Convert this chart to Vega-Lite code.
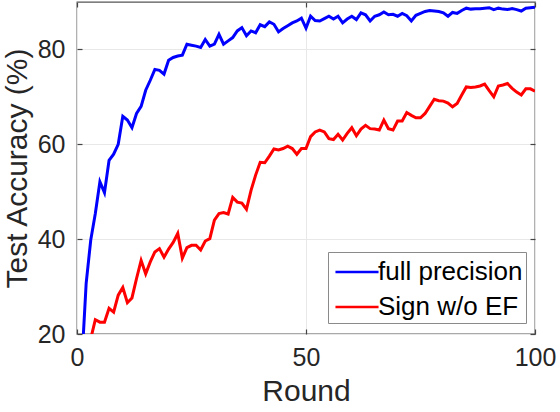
{
  "$schema": "https://vega.github.io/schema/vega-lite/v6.json",
  "width": 458,
  "height": 332,
  "autosize": "none",
  "padding": {"left": 77, "top": 2, "right": 25, "bottom": 78},
  "background": "white",
  "config": {
    "font": "Liberation Sans",
    "view": {"stroke": "#555555", "strokeWidth": 1.3},
    "axis": {
      "domain": false,
      "gridColor": "#e8e8e8",
      "gridWidth": 1,
      "tickColor": "#444444",
      "tickSize": -5,
      "tickWidth": 1.2,
      "labelFontSize": 25,
      "labelColor": "#262626",
      "titleFontSize": 30,
      "titleColor": "#262626",
      "titleFontWeight": "normal"
    }
  },
  "data": {
    "values": [
      {"round": 1, "method": "full precision", "acc": 13},
      {"round": 2, "method": "full precision", "acc": 30.7},
      {"round": 3, "method": "full precision", "acc": 39.8},
      {"round": 4, "method": "full precision", "acc": 45.4},
      {"round": 5, "method": "full precision", "acc": 52.1},
      {"round": 6, "method": "full precision", "acc": 49.8},
      {"round": 7, "method": "full precision", "acc": 56.6},
      {"round": 8, "method": "full precision", "acc": 57.9},
      {"round": 9, "method": "full precision", "acc": 60.0},
      {"round": 10, "method": "full precision", "acc": 65.9},
      {"round": 11, "method": "full precision", "acc": 65.1},
      {"round": 12, "method": "full precision", "acc": 63.5},
      {"round": 13, "method": "full precision", "acc": 66.5},
      {"round": 14, "method": "full precision", "acc": 68.0},
      {"round": 15, "method": "full precision", "acc": 71.4},
      {"round": 16, "method": "full precision", "acc": 73.5},
      {"round": 17, "method": "full precision", "acc": 75.8},
      {"round": 18, "method": "full precision", "acc": 75.6},
      {"round": 19, "method": "full precision", "acc": 74.8},
      {"round": 20, "method": "full precision", "acc": 77.7},
      {"round": 21, "method": "full precision", "acc": 78.3},
      {"round": 22, "method": "full precision", "acc": 78.6},
      {"round": 23, "method": "full precision", "acc": 78.8},
      {"round": 24, "method": "full precision", "acc": 81.1},
      {"round": 25, "method": "full precision", "acc": 80.9},
      {"round": 26, "method": "full precision", "acc": 80.7},
      {"round": 27, "method": "full precision", "acc": 80.4},
      {"round": 28, "method": "full precision", "acc": 82.1},
      {"round": 29, "method": "full precision", "acc": 80.7},
      {"round": 30, "method": "full precision", "acc": 81.1},
      {"round": 31, "method": "full precision", "acc": 83.2},
      {"round": 32, "method": "full precision", "acc": 81.1},
      {"round": 33, "method": "full precision", "acc": 81.8},
      {"round": 34, "method": "full precision", "acc": 82.5},
      {"round": 35, "method": "full precision", "acc": 83.9},
      {"round": 36, "method": "full precision", "acc": 84.6},
      {"round": 37, "method": "full precision", "acc": 82.9},
      {"round": 38, "method": "full precision", "acc": 83.9},
      {"round": 39, "method": "full precision", "acc": 83.5},
      {"round": 40, "method": "full precision", "acc": 85.2},
      {"round": 41, "method": "full precision", "acc": 84.8},
      {"round": 42, "method": "full precision", "acc": 85.8},
      {"round": 43, "method": "full precision", "acc": 85.3},
      {"round": 44, "method": "full precision", "acc": 83.7},
      {"round": 45, "method": "full precision", "acc": 84.4},
      {"round": 46, "method": "full precision", "acc": 85.0},
      {"round": 47, "method": "full precision", "acc": 85.6},
      {"round": 48, "method": "full precision", "acc": 86.0},
      {"round": 49, "method": "full precision", "acc": 86.6},
      {"round": 50, "method": "full precision", "acc": 84.5},
      {"round": 51, "method": "full precision", "acc": 87.0},
      {"round": 52, "method": "full precision", "acc": 86.1},
      {"round": 53, "method": "full precision", "acc": 86.0},
      {"round": 54, "method": "full precision", "acc": 86.5},
      {"round": 55, "method": "full precision", "acc": 87.0},
      {"round": 56, "method": "full precision", "acc": 86.4},
      {"round": 57, "method": "full precision", "acc": 87.0},
      {"round": 58, "method": "full precision", "acc": 85.6},
      {"round": 59, "method": "full precision", "acc": 86.4},
      {"round": 60, "method": "full precision", "acc": 87.0},
      {"round": 61, "method": "full precision", "acc": 86.3},
      {"round": 62, "method": "full precision", "acc": 87.7},
      {"round": 63, "method": "full precision", "acc": 87.3},
      {"round": 64, "method": "full precision", "acc": 86.0},
      {"round": 65, "method": "full precision", "acc": 87.0},
      {"round": 66, "method": "full precision", "acc": 87.3},
      {"round": 67, "method": "full precision", "acc": 87.9},
      {"round": 68, "method": "full precision", "acc": 87.3},
      {"round": 69, "method": "full precision", "acc": 87.4},
      {"round": 70, "method": "full precision", "acc": 87.0},
      {"round": 71, "method": "full precision", "acc": 87.6},
      {"round": 72, "method": "full precision", "acc": 87.1},
      {"round": 73, "method": "full precision", "acc": 86.0},
      {"round": 74, "method": "full precision", "acc": 87.2},
      {"round": 75, "method": "full precision", "acc": 87.6},
      {"round": 76, "method": "full precision", "acc": 88.0},
      {"round": 77, "method": "full precision", "acc": 88.2},
      {"round": 78, "method": "full precision", "acc": 88.1},
      {"round": 79, "method": "full precision", "acc": 88.0},
      {"round": 80, "method": "full precision", "acc": 87.7},
      {"round": 81, "method": "full precision", "acc": 87.0},
      {"round": 82, "method": "full precision", "acc": 87.8},
      {"round": 83, "method": "full precision", "acc": 87.6},
      {"round": 84, "method": "full precision", "acc": 88.2},
      {"round": 85, "method": "full precision", "acc": 88.7},
      {"round": 86, "method": "full precision", "acc": 88.5},
      {"round": 87, "method": "full precision", "acc": 88.6},
      {"round": 88, "method": "full precision", "acc": 88.6},
      {"round": 89, "method": "full precision", "acc": 88.7},
      {"round": 90, "method": "full precision", "acc": 88.8},
      {"round": 91, "method": "full precision", "acc": 88.4},
      {"round": 92, "method": "full precision", "acc": 88.7},
      {"round": 93, "method": "full precision", "acc": 88.5},
      {"round": 94, "method": "full precision", "acc": 88.4},
      {"round": 95, "method": "full precision", "acc": 88.6},
      {"round": 96, "method": "full precision", "acc": 88.4},
      {"round": 97, "method": "full precision", "acc": 88.1},
      {"round": 98, "method": "full precision", "acc": 88.7},
      {"round": 99, "method": "full precision", "acc": 88.8},
      {"round": 100, "method": "full precision", "acc": 88.9},
      {"round": 1, "method": "Sign w/o EF", "acc": 10},
      {"round": 2, "method": "Sign w/o EF", "acc": 15},
      {"round": 3, "method": "Sign w/o EF", "acc": 19},
      {"round": 4, "method": "Sign w/o EF", "acc": 23.0},
      {"round": 5, "method": "Sign w/o EF", "acc": 22.5},
      {"round": 6, "method": "Sign w/o EF", "acc": 22.5},
      {"round": 7, "method": "Sign w/o EF", "acc": 25.4},
      {"round": 8, "method": "Sign w/o EF", "acc": 24.6},
      {"round": 9, "method": "Sign w/o EF", "acc": 28.2},
      {"round": 10, "method": "Sign w/o EF", "acc": 29.8},
      {"round": 11, "method": "Sign w/o EF", "acc": 26.6},
      {"round": 12, "method": "Sign w/o EF", "acc": 27.6},
      {"round": 13, "method": "Sign w/o EF", "acc": 31.7},
      {"round": 14, "method": "Sign w/o EF", "acc": 35.5},
      {"round": 15, "method": "Sign w/o EF", "acc": 32.7},
      {"round": 16, "method": "Sign w/o EF", "acc": 35.2},
      {"round": 17, "method": "Sign w/o EF", "acc": 37.3},
      {"round": 18, "method": "Sign w/o EF", "acc": 38.0},
      {"round": 19, "method": "Sign w/o EF", "acc": 36.2},
      {"round": 20, "method": "Sign w/o EF", "acc": 37.9},
      {"round": 21, "method": "Sign w/o EF", "acc": 39.3},
      {"round": 22, "method": "Sign w/o EF", "acc": 41.2},
      {"round": 23, "method": "Sign w/o EF", "acc": 36.0},
      {"round": 24, "method": "Sign w/o EF", "acc": 38.2},
      {"round": 25, "method": "Sign w/o EF", "acc": 38.7},
      {"round": 26, "method": "Sign w/o EF", "acc": 38.7},
      {"round": 27, "method": "Sign w/o EF", "acc": 37.7},
      {"round": 28, "method": "Sign w/o EF", "acc": 39.6},
      {"round": 29, "method": "Sign w/o EF", "acc": 40.1},
      {"round": 30, "method": "Sign w/o EF", "acc": 44.0},
      {"round": 31, "method": "Sign w/o EF", "acc": 45.4},
      {"round": 32, "method": "Sign w/o EF", "acc": 45.6},
      {"round": 33, "method": "Sign w/o EF", "acc": 45.3},
      {"round": 34, "method": "Sign w/o EF", "acc": 48.8},
      {"round": 35, "method": "Sign w/o EF", "acc": 47.8},
      {"round": 36, "method": "Sign w/o EF", "acc": 47.6},
      {"round": 37, "method": "Sign w/o EF", "acc": 46.3},
      {"round": 38, "method": "Sign w/o EF", "acc": 50.3},
      {"round": 39, "method": "Sign w/o EF", "acc": 53.5},
      {"round": 40, "method": "Sign w/o EF", "acc": 56.2},
      {"round": 41, "method": "Sign w/o EF", "acc": 56.1},
      {"round": 42, "method": "Sign w/o EF", "acc": 57.5},
      {"round": 43, "method": "Sign w/o EF", "acc": 59.0},
      {"round": 44, "method": "Sign w/o EF", "acc": 58.8},
      {"round": 45, "method": "Sign w/o EF", "acc": 59.1},
      {"round": 46, "method": "Sign w/o EF", "acc": 59.6},
      {"round": 47, "method": "Sign w/o EF", "acc": 59.1},
      {"round": 48, "method": "Sign w/o EF", "acc": 57.9},
      {"round": 49, "method": "Sign w/o EF", "acc": 59.1},
      {"round": 50, "method": "Sign w/o EF", "acc": 59.1},
      {"round": 51, "method": "Sign w/o EF", "acc": 61.6},
      {"round": 52, "method": "Sign w/o EF", "acc": 62.6},
      {"round": 53, "method": "Sign w/o EF", "acc": 63.0},
      {"round": 54, "method": "Sign w/o EF", "acc": 62.6},
      {"round": 55, "method": "Sign w/o EF", "acc": 61.2},
      {"round": 56, "method": "Sign w/o EF", "acc": 61.0},
      {"round": 57, "method": "Sign w/o EF", "acc": 62.1},
      {"round": 58, "method": "Sign w/o EF", "acc": 60.9},
      {"round": 59, "method": "Sign w/o EF", "acc": 62.3},
      {"round": 60, "method": "Sign w/o EF", "acc": 63.5},
      {"round": 61, "method": "Sign w/o EF", "acc": 61.8},
      {"round": 62, "method": "Sign w/o EF", "acc": 63.2},
      {"round": 63, "method": "Sign w/o EF", "acc": 64.0},
      {"round": 64, "method": "Sign w/o EF", "acc": 63.3},
      {"round": 65, "method": "Sign w/o EF", "acc": 63.2},
      {"round": 66, "method": "Sign w/o EF", "acc": 63.0},
      {"round": 67, "method": "Sign w/o EF", "acc": 65.1},
      {"round": 68, "method": "Sign w/o EF", "acc": 63.3},
      {"round": 69, "method": "Sign w/o EF", "acc": 63.0},
      {"round": 70, "method": "Sign w/o EF", "acc": 64.9},
      {"round": 71, "method": "Sign w/o EF", "acc": 64.9},
      {"round": 72, "method": "Sign w/o EF", "acc": 66.7},
      {"round": 73, "method": "Sign w/o EF", "acc": 66.1},
      {"round": 74, "method": "Sign w/o EF", "acc": 65.6},
      {"round": 75, "method": "Sign w/o EF", "acc": 65.6},
      {"round": 76, "method": "Sign w/o EF", "acc": 66.5},
      {"round": 77, "method": "Sign w/o EF", "acc": 68.0},
      {"round": 78, "method": "Sign w/o EF", "acc": 69.5},
      {"round": 79, "method": "Sign w/o EF", "acc": 69.2},
      {"round": 80, "method": "Sign w/o EF", "acc": 69.1},
      {"round": 81, "method": "Sign w/o EF", "acc": 68.7},
      {"round": 82, "method": "Sign w/o EF", "acc": 67.9},
      {"round": 83, "method": "Sign w/o EF", "acc": 68.6},
      {"round": 84, "method": "Sign w/o EF", "acc": 70.4},
      {"round": 85, "method": "Sign w/o EF", "acc": 72.1},
      {"round": 86, "method": "Sign w/o EF", "acc": 72.0},
      {"round": 87, "method": "Sign w/o EF", "acc": 72.1},
      {"round": 88, "method": "Sign w/o EF", "acc": 72.3},
      {"round": 89, "method": "Sign w/o EF", "acc": 72.7},
      {"round": 90, "method": "Sign w/o EF", "acc": 71.3},
      {"round": 91, "method": "Sign w/o EF", "acc": 70.0},
      {"round": 92, "method": "Sign w/o EF", "acc": 72.3},
      {"round": 93, "method": "Sign w/o EF", "acc": 72.5},
      {"round": 94, "method": "Sign w/o EF", "acc": 72.8},
      {"round": 95, "method": "Sign w/o EF", "acc": 71.8},
      {"round": 96, "method": "Sign w/o EF", "acc": 71.0},
      {"round": 97, "method": "Sign w/o EF", "acc": 70.4},
      {"round": 98, "method": "Sign w/o EF", "acc": 71.7},
      {"round": 99, "method": "Sign w/o EF", "acc": 71.7},
      {"round": 100, "method": "Sign w/o EF", "acc": 71.2}
    ]
  },
  "layer": [
    {
      "mark": {"type": "line", "strokeWidth": 3, "clip": true},
      "encoding": {
        "x": {
          "field": "round",
          "type": "quantitative",
          "title": "Round",
          "scale": {"domain": [0, 100], "nice": false},
          "axis": {"values": [0, 50, 100], "labelPadding": 16, "titlePadding": 6, "labelFlush": false}
        },
        "y": {
          "field": "acc",
          "type": "quantitative",
          "title": "Test Accuracy (%)",
          "scale": {"domain": [20, 90], "nice": false, "zero": false},
          "axis": {"values": [20, 40, 60, 80], "labelPadding": 17, "titlePadding": 5}
        },
        "color": {
          "field": "method",
          "type": "nominal",
          "scale": {"domain": ["full precision", "Sign w/o EF"], "range": ["#0000ff", "#ff0000"]},
          "legend": {
            "title": null,
            "orient": "none",
            "legendX": 251,
            "legendY": 250,
            "symbolType": "M-1.39,0L1.39,0",
            "symbolSize": 961,
            "symbolStrokeWidth": 2.5,
            "symbolOffset": 9,
            "labelFontSize": 26,
            "labelColor": "#000000",
            "labelOffset": 4,
            "labelLimit": 300,
            "fillColor": "white",
            "strokeColor": "#8a8a8a",
            "padding": 3,
            "rowPadding": 5
          }
        }
      }
    },
    {
      "mark": {"type": "line", "opacity": 0},
      "encoding": {
        "x": {
          "field": "round",
          "type": "quantitative",
          "axis": {"orient": "top", "values": [0, 50, 100], "labels": false, "grid": false, "title": null}
        },
        "y": {
          "field": "acc",
          "type": "quantitative",
          "axis": {"orient": "right", "values": [20, 40, 60, 80], "labels": false, "grid": false, "title": null}
        },
        "detail": {"field": "method", "type": "nominal"}
      }
    }
  ],
  "resolve": {"axis": {"x": "independent", "y": "independent"}}
}
